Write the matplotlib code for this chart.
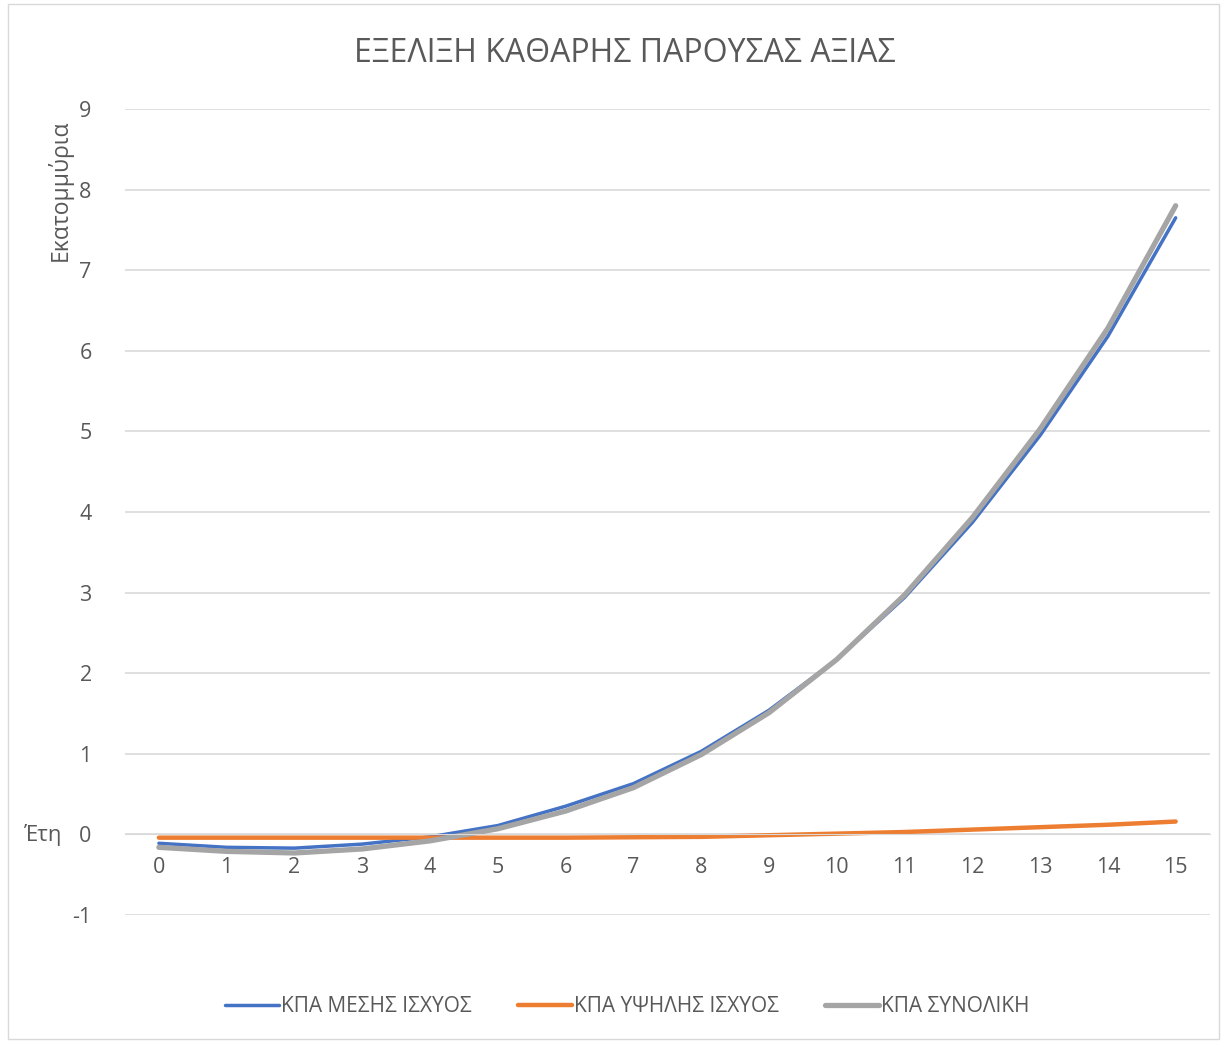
import numpy as np
import matplotlib
matplotlib.use('Agg')
import matplotlib.pyplot as plt
from matplotlib.patches import Rectangle

plt.rcParams['font.family'] = ['Open Sans', 'DejaVu Sans']
plt.rcParams['axes.unicode_minus'] = False

# δεδομένα (εκατομμύρια)
years = list(range(16))
kpa_mesis = [-0.11, -0.16, -0.17, -0.12, -0.03, 0.11, 0.35, 0.63, 1.03, 1.54,
             2.17, 2.94, 3.87, 4.95, 6.18, 7.65]
kpa_ypsilis = [-0.04, -0.04, -0.04, -0.04, -0.04, -0.04, -0.04, -0.035, -0.03, -0.01,
               0.01, 0.03, 0.06, 0.09, 0.12, 0.16]
kpa_synoliki = [-0.16, -0.21, -0.23, -0.18, -0.08, 0.07, 0.29, 0.58, 0.99, 1.51,
                2.17, 2.97, 3.93, 5.03, 6.28, 7.80]
labels = ['ΚΠΑ ΜΕΣΗΣ ΙΣΧΥΟΣ', 'ΚΠΑ ΥΨΗΛΗΣ ΙΣΧΥΟΣ', 'ΚΠΑ ΣΥΝΟΛΙΚΗ']
colors = ['#4472C4', '#ED7D31', '#A5A5A5']
txt = '#595959'

fig = plt.figure(figsize=(12.23, 10.41), dpi=100)
ax = fig.add_axes([0.1022, 0.121, 0.8868, 0.7743])

ax.plot(years, kpa_mesis, color=colors[0], lw=2.5, label=labels[0], solid_capstyle='round')
ax.plot(years, kpa_ypsilis, color=colors[1], lw=3.2, label=labels[1], solid_capstyle='round')
ax.plot(years, kpa_synoliki, color=colors[2], lw=3.8, label=labels[2], solid_capstyle='round')

ax.set_xlim(-0.5, 15.5)
ax.set_ylim(-1, 9)
ax.set_yticks(range(-1, 10))
ax.set_xticks(years)
ax.grid(axis='y', color='#D9D9D9', lw=1.2)
ax.set_axisbelow(True)
for s in ['top', 'right', 'left']:
    ax.spines[s].set_visible(False)
ax.spines['bottom'].set_position(('data', 0))
ax.spines['bottom'].set_color('#D9D9D9')
ax.tick_params(axis='x', length=0, pad=16, labelsize=15.5, labelcolor=txt)
ax.tick_params(axis='y', length=0, pad=24, labelsize=15.5, labelcolor=txt)

fig.text(0.511, 1 - 53 / 1041, 'ΕΞΕΛΙΞΗ ΚΑΘΑΡΗΣ ΠΑΡΟΥΣΑΣ ΑΞΙΑΣ', ha='center', va='center',
         fontsize=23, color=txt)
fig.text(60 / 1223, 1 - 190 / 1041, 'Εκατομμύρια', rotation=90, ha='center', va='center',
         fontsize=16.5, color=txt)
fig.text(43 / 1223, 1 - 835 / 1041, 'Έτη', ha='center', va='center', fontsize=16, color=txt)

fig.legend(loc='center', bbox_to_anchor=(0.513, 1 - 1007 / 1041), ncol=3, frameon=False,
           fontsize=15, handlelength=2.6, handletextpad=0.1, columnspacing=2.2,
           labelcolor=txt)

fig.patches.append(Rectangle((8 / 1223, 0.002), 1 - 12 / 1223, 0.994, transform=fig.transFigure,
                             fill=False, edgecolor='#D9D9D9', lw=1))

fig.savefig('out.png', dpi=100)
